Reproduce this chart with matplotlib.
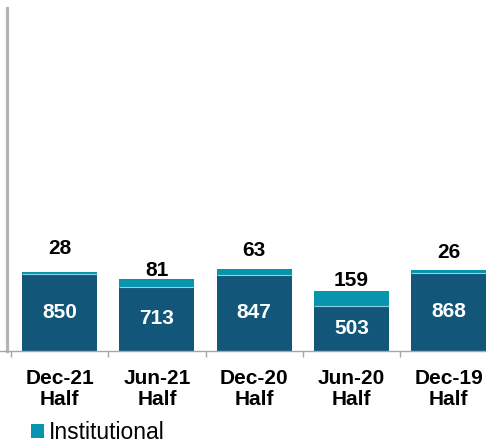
import matplotlib
matplotlib.use("Agg")
import matplotlib.pyplot as plt
import numpy as np

plt.rcParams['font.family'] = ['Liberation Sans', 'DejaVu Sans']

categories = ['Dec-21\nHalf', 'Jun-21\nHalf', 'Dec-20\nHalf', 'Jun-20\nHalf', 'Dec-19\nHalf']
retail = [850, 713, 847, 503, 868]
institutional = [28, 81, 63, 159, 26]

DARK = '#12577a'
TEAL = '#0795ae'

# label nudges above the stack (points), as laid out in the original
top_offsets = [17, 6.5, 13, 8, 12.5]

fig = plt.figure(figsize=(4.86, 4.43), dpi=100)
ax = fig.add_axes([0, 92 / 443, 1, 343 / 443])

x = np.arange(len(categories))
w = 0.77
ax.bar(x, retail, width=w, color=DARK, edgecolor='none', zorder=2)
ax.bar(x, institutional, width=w, bottom=retail, color=TEAL, edgecolor='none',
       zorder=2, label='Institutional')
ax.hlines(retail, x - w / 2, x + w / 2, color='#8fd3e2', lw=0.8, zorder=3)

for i in range(len(x)):
    ax.text(x[i], retail[i] / 2, str(retail[i]), ha='center', va='center',
            color='white', fontsize=15, fontweight='bold', zorder=4)
    ax.annotate(str(institutional[i]), (x[i], retail[i] + institutional[i]),
                xytext=(0, top_offsets[i]), textcoords='offset points',
                ha='center', va='center', fontsize=15, fontweight='bold')

for s in ['top', 'right']:
    ax.spines[s].set_visible(False)
ax.spines['left'].set_position(('data', -0.546))
ax.spines['left'].set_color('#b4b4b4')
ax.spines['left'].set_linewidth(2.3)
ax.spines['bottom'].set_color('#a6a6a6')
ax.spines['bottom'].set_linewidth(1)
ax.set_yticks([])

ax.set_xticks(x)
ax.set_xticklabels(categories, fontsize=15, fontweight='bold', linespacing=1.1)
ax.set_xticks(np.arange(-0.5, len(x)), minor=True)
ax.tick_params(axis='x', which='major', length=0, pad=13)
ax.tick_params(axis='x', which='minor', length=4.3, color='#a6a6a6', width=1)

# limits last, so the ticks do not widen the view
ax.set_xlim(-0.613, 4.382)
ax.set_ylim(0, 3800)

fig.legend(loc='lower left', bbox_to_anchor=(31 / 486, -1 / 443), frameon=False,
           fontsize=16.5, handlelength=0.57, handleheight=0.57, handletextpad=0.22,
           borderpad=0, borderaxespad=0)

fig.savefig('out.png', dpi=100)
